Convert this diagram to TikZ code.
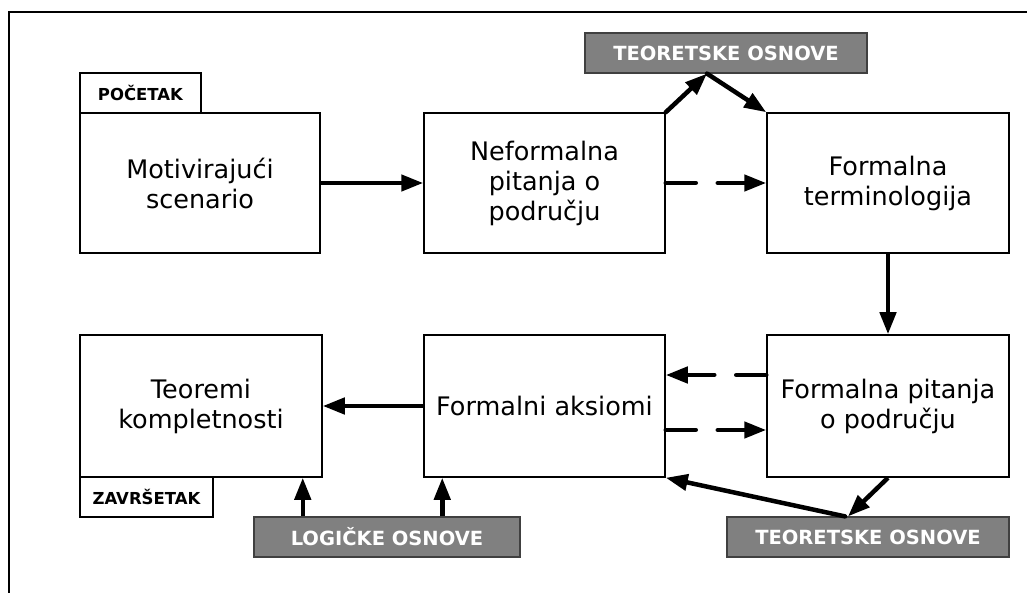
\documentclass[tikz,border=0pt]{standalone}
\usepackage{fontspec}
\setmainfont{DejaVu Sans}
\usetikzlibrary{arrows.meta}
\definecolor{boxgray}{HTML}{808080}
\definecolor{edgegray}{HTML}{404040}
\tikzset{
  mainbox/.style={draw=black, line width=1.5pt, fill=white, minimum width=241pt, minimum height=141pt,
    align=center, font=\fontsize{25.5}{30}\selectfont, inner sep=0pt},
  tabbox/.style={draw=black, line width=1.5pt, fill=white, minimum height=40pt,
    font=\fontsize{16.5}{20}\selectfont\bfseries, inner sep=0pt},
  graybox/.style={draw=edgegray, line width=1.2pt, fill=boxgray, text=white, minimum width=282pt, minimum height=40pt,
    font=\fontsize{19.5}{23}\selectfont\bfseries, inner sep=0pt},
  arr/.style={line width=4.5pt, -{Triangle[length=22pt,width=16pt]}},
  darr/.style={arr, dash pattern=on 30pt off 22pt, line cap=round},
}
\begin{document}
\begin{tikzpicture}[x=1pt,y=-1pt]
\useasboundingbox (0,0) rectangle (1027,593);
\draw[line width=2pt] (9,593) -- (9,12) -- (1027,12);

% top row
\node[mainbox, minimum width=240pt, minimum height=140pt] (ms) at (200,183) {Motivirajući\\scenario};
\node[mainbox, minimum height=140pt] (nf) at (544.5,183) {Neformalna\\pitanja o\\području};
\node[mainbox, minimum width=242pt, minimum height=140pt] (ft) at (888,183) {Formalna\\terminologija};
\node[tabbox, minimum width=121pt] (poc) at (140.5,93) {POČETAK};
\node[graybox] (teo1) at (726,53) {TEORETSKE OSNOVE};

% bottom row
\node[mainbox, minimum width=242pt, minimum height=142pt] (tk) at (201,406) {Teoremi\\kompletnosti};
\node[mainbox, minimum height=142pt] (fa) at (544.5,406) {Formalni aksiomi};
\node[mainbox, minimum width=242pt, minimum height=142pt] (fp) at (888,406) {Formalna pitanja\\o području};
\node[tabbox, minimum width=133pt] (zav) at (146.5,497) {ZAVRŠETAK};
\node[graybox, minimum width=266pt] (log) at (387,537) {LOGIČKE OSNOVE};
\node[graybox] (teo2) at (868,537) {TEORETSKE OSNOVE};

% connectors
\draw[arr] (ms.east) -- (nf.west);
\draw[darr] (nf.east) -- (ft.west);
\draw[arr, line cap=round] (nf.north east) -- ([xshift=-19pt]teo1.south);
\draw[arr, line cap=round] ([xshift=-19pt]teo1.south) -- (ft.north west);
\draw[arr] (ft.south) -- (fp.north);
\draw[darr] ([yshift=31pt]fp.west) -- ([yshift=31pt]fa.east);
\draw[darr] ([yshift=-24pt]fa.east) -- ([yshift=-24pt]fp.west);
\draw[arr] (fa.west) -- (tk.east);
\draw[arr] (fp.south) -- ([xshift=-20pt]teo2.north);
\draw[arr, line cap=round] ([xshift=-23pt]teo2.north) -- (fa.south east);
\draw[arr] ([xshift=-20pt]tk.south east |- log.north) -- ([xshift=-20pt]tk.south east);
\draw[arr] ([xshift=19pt]fa.south west |- log.north) -- ([xshift=19pt]fa.south west);
\end{tikzpicture}
\end{document}
